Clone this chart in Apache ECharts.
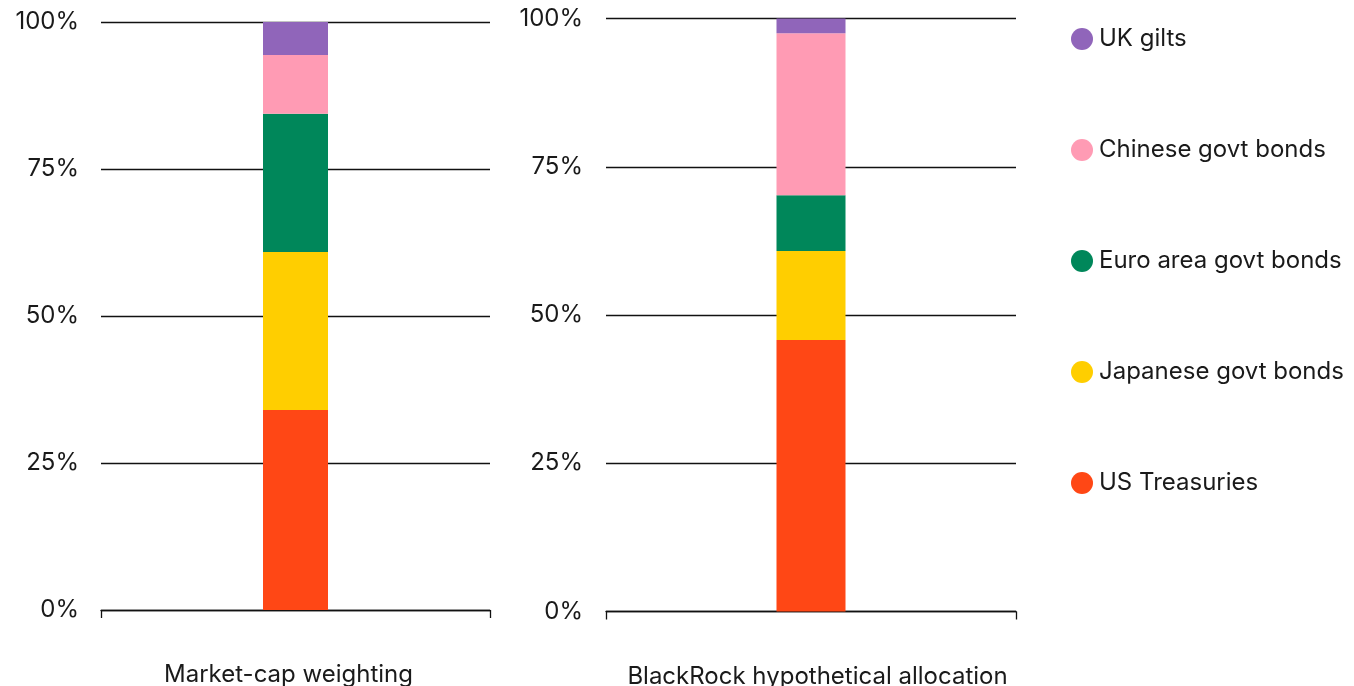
<!DOCTYPE html>
<html>
<head>
<meta charset="utf-8">
<script src="https://cdn.jsdelivr.net/npm/echarts@6/dist/echarts.min.js"></script>
<style>
html,body{margin:0;padding:0;background:#fff;}
#chart{width:1354px;height:686px;}
</style>
</head>
<body>
<div id="chart"></div>
<script>
// Data (percent of portfolio)
const categories = ['Market-cap weighting', 'BlackRock hypothetical allocation'];
const seriesNames = ['US Treasuries', 'Japanese govt bonds', 'Euro area govt bonds', 'Chinese govt bonds', 'UK gilts'];
const usTreasuries = [34.0, 45.8];
const japaneseBonds = [26.9, 15.0];
const euroBonds = [23.5, 9.4];
const chineseBonds = [10.0, 27.3];
const ukGilts = [5.6, 2.5];
const yTicks = [0, 25, 50, 75, 100];

const values = [usTreasuries, japaneseBonds, euroBonds, chineseBonds, ukGilts];
const colors = ['#ff4715', '#ffce00', '#00875a', '#ff9bb4', '#9065ba'];
const FONT = 'Inter';
const TXT = '#1a1a1a';

const grids = [
  {left: 101, top: 22, width: 389, height: 588, outerBoundsMode: 'none', containLabel: false},
  {left: 606, top: 18.5, width: 410, height: 593, outerBoundsMode: 'none', containLabel: false}
];
const barWidths = [65, 69];
const labelPads = [[0, 14, 0, 0], [0, 0, 0, 13]];

const xAxes = categories.map((c, i) => ({
  type: 'category', gridIndex: i, data: [c],
  axisLine: {show: true, lineStyle: {color: '#111', width: 1.3}},
  axisTick: {show: true, length: 8, lineStyle: {color: '#111', width: 1.3}},
  axisLabel: {fontFamily: FONT, fontSize: 24, color: TXT, margin: 53, padding: labelPads[i]}
}));
const yAxes = categories.map((c, i) => ({
  type: 'value', gridIndex: i, min: yTicks[0], max: yTicks[yTicks.length - 1], interval: 25,
  axisLine: {show: false}, axisTick: {show: false},
  splitLine: {show: true, lineStyle: {color: '#111', width: 1.3}},
  axisLabel: {fontFamily: FONT, fontSize: 24, color: TXT, margin: i === 0 ? 22 : 23, formatter: '{value}%'}
}));

const series = [];
seriesNames.forEach((name, s) => {
  categories.forEach((c, g) => {
    series.push({
      name: name, type: 'bar', stack: 'g' + g,
      xAxisIndex: g, yAxisIndex: g,
      barWidth: barWidths[g],
      itemStyle: {color: colors[s]},
      data: [values[s][g]],
      z: 1
    });
  });
});

const chart = echarts.init(document.getElementById('chart'));
chart.setOption({
  animation: false,
  color: colors,
  grid: grids,
  xAxis: xAxes,
  yAxis: yAxes,
  legend: {
    orient: 'vertical', left: 1066, top: 22,
    data: seriesNames.slice().reverse(),
    icon: 'circle', itemWidth: 22, itemHeight: 22, itemGap: 87,
    selectedMode: false,
    textStyle: {fontFamily: FONT, fontSize: 24, lineHeight: 24, color: TXT, padding: [0, 0, 0, 1]}
  },
  series: series
});
</script>
</body>
</html>
